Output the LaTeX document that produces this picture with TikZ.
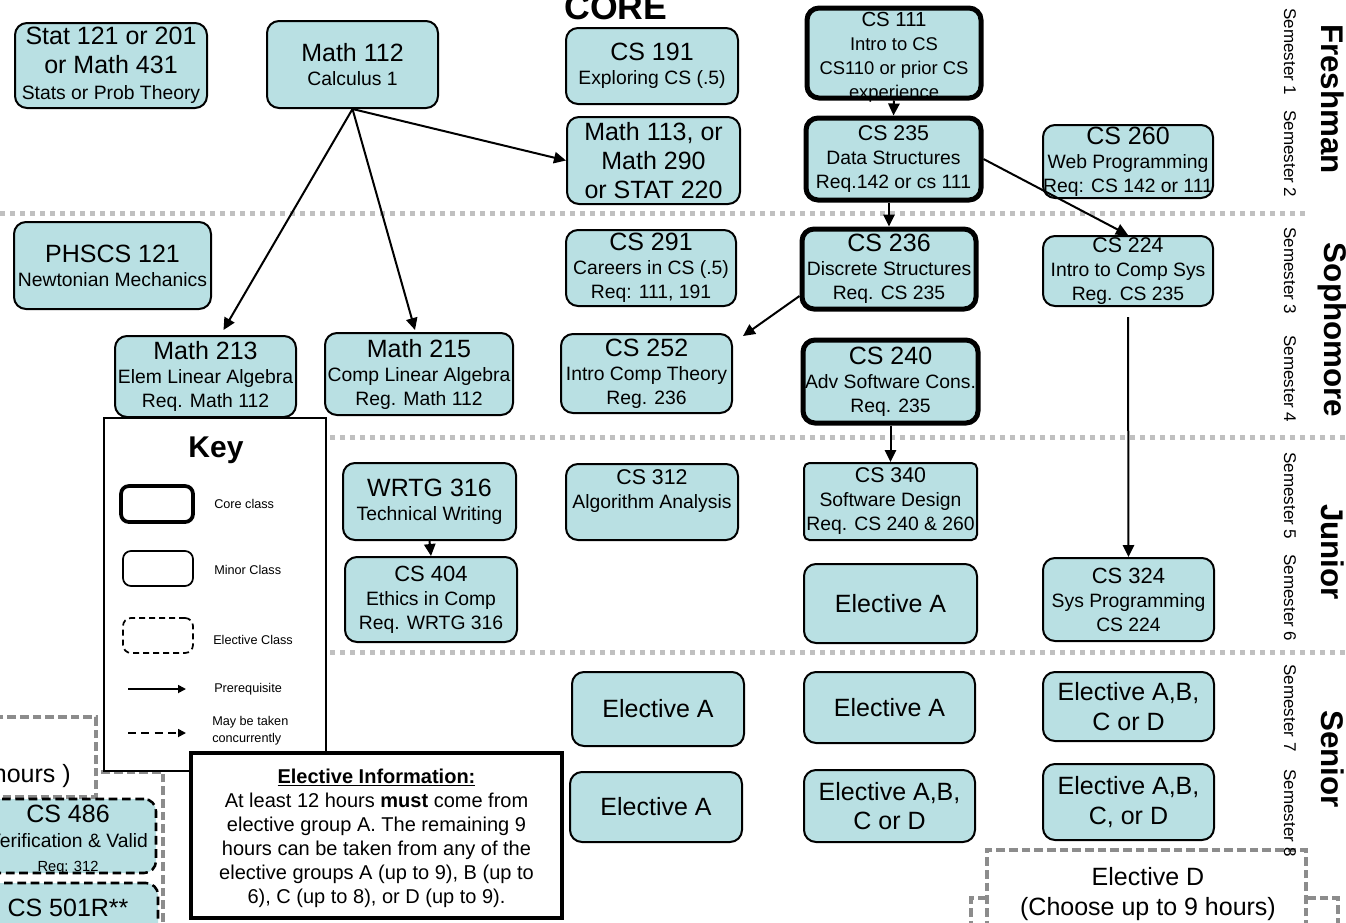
\documentclass[tikz,border=0pt]{standalone}
\usepackage{fontspec}
\setmainfont{Liberation Sans}
\usetikzlibrary{arrows.meta,calc}
\definecolor{cfill}{RGB}{185,224,227}
\definecolor{dotgray}{RGB}{192,192,192}
\definecolor{dashgray}{RGB}{140,140,140}
\newcommand{\Bf}{\fontsize{18.75}{22}\selectfont}
\newcommand{\Mf}{\fontsize{14.5}{18}\selectfont}
\newcommand{\Kf}{\fontsize{9.5}{12.5}\selectfont}
\newcommand{\bx}[6]{\node[#2, minimum width={(#5-(#3))*0.75pt}, minimum height={(#6-(#4))*0.75pt}] (#1) at ({(#3+#5)/2},{(#4+#6)/2}) {};}
\newcommand{\crs}[7]{\bx{#1}{#2}{#3}{#4}{#5}{#6}\node[txt] (#1-t) at (#1.center) {#7};}
\tikzset{
  box/.style={draw=black, fill=cfill, rounded corners=9pt, line width=1.5pt, inner sep=0pt},
  corebox/.style={box, line width=3.75pt},
  elbox/.style={box, dash pattern=on 6.5pt off 3.5pt, line width=1.9pt},
  gbox/.style={draw=dashgray, line width=3.2pt, dash pattern=on 6.5pt off 3pt, inner sep=0pt},
  keybox/.style={draw=black, fill=white, line width=1.9pt, inner sep=0pt},
  infobox/.style={draw=black, fill=white, line width=3pt, inner sep=0pt},
  keycore/.style={draw=black, rounded corners=6pt, line width=2.8pt, inner sep=0pt},
  keyminor/.style={draw=black, rounded corners=6pt, line width=1.3pt, inner sep=0pt},
  keyelec/.style={draw=black, rounded corners=6pt, line width=1.3pt, dash pattern=on 4.5pt off 3pt, inner sep=0pt},
  txt/.style={align=center, inner sep=0pt, font=\Mf},
  ktxt/.style={anchor=west, align=left, inner sep=0pt, font=\Kf},
  sem/.style={rotate=-90, inner sep=0pt, font=\fontsize{12.75}{14}\selectfont},
  yr/.style={rotate=-90, inner sep=0pt, font=\bfseries\fontsize{23.5}{26}\selectfont},
  arr/.style={line width=1.5pt, -{Triangle[length=9pt,width=8.5pt]}},
  karr/.style={line width=1.3pt, -{Triangle[length=6pt,width=6pt]}},
  sep/.style={draw=dotgray, line width=3.75pt, dash pattern=on 3.75pt off 3.75pt}
}
\begin{document}
\begin{tikzpicture}[x=0.75pt,y=-0.75pt]
\useasboundingbox (0,0) rectangle (1346,922);
\clip (0,0) rectangle (1346,922);
% semester separators
\draw[sep] (0,213) -- (1305,213);
\draw[sep] (330,437) -- (1346,437);
\draw[sep] (330,652) -- (1346,652);
% heading
\node[font=\bfseries\fontsize{26.7}{30}\selectfont, anchor=base, inner sep=0pt] (core) at (616,19) {CORE};
% freshman
\crs{stat}{box}{15}{23}{207}{108}{\Bf Stat 121 or 201\\[4pt]\Bf or Math 431\\[1.5pt]\Mf Stats or Prob Theory}
\crs{m112}{box}{267}{21}{438}{108}{\Bf Math 112\\\Mf Calculus 1}
\crs{cs191}{box}{566}{28}{738}{104}{\Bf CS 191\\\Mf Exploring CS (.5)}
\crs{m113}{box}{567}{117}{740}{204}{\Bf Math 113, or\\[4pt]\Bf Math 290\\[4pt]\Bf or STAT 220}
\bx{cs111}{corebox}{807}{8}{981}{98}
\node[txt] (cs111-t) at ($(cs111.center)+(0,4)$) {\fontsize{15.3}{17}\selectfont CS 111\\\fontsize{13.8}{17}\selectfont Intro to CS\\\fontsize{13.8}{17}\selectfont CS110 or prior CS\\\fontsize{13.8}{17}\selectfont experience};
\crs{cs235}{corebox}{806}{118}{981}{200}{\fontsize{16}{18}\selectfont CS 235\\\Mf Data Structures\\Req.142 or cs 111}
\crs{cs260}{box}{1043}{125}{1213}{198}{\Bf CS 260\\\Mf Web Programming\\Req: CS 142 or 111}
% sophomore
\crs{phscs}{box}{14}{222}{211}{309}{\Bf PHSCS 121\\\Mf Newtonian Mechanics}
\crs{cs291}{box}{566}{230}{736}{306}{\Bf CS 291\\\Mf Careers in CS (.5)\\Req: 111, 191}
\crs{cs236}{corebox}{802}{229}{976}{309}{\Bf CS 236\\\Mf Discrete Structures\\Req. CS 235}
\crs{cs224}{box}{1043}{236}{1213}{306}{\fontsize{16}{18}\selectfont CS 224\\\Mf Intro to Comp Sys\\Reg. CS 235}
\crs{m213}{box}{115}{336}{296}{417}{\Bf Math 213\\\Mf Elem Linear Algebra\\Req. Math 112}
\crs{m215}{box}{325}{333}{513}{415}{\Bf Math 215\\\Mf Comp Linear Algebra\\Reg. Math 112}
\crs{cs252}{box}{561}{334}{732}{413}{\Bf CS 252\\\Mf Intro Comp Theory\\Reg. 236}
\crs{cs240}{corebox}{803}{340}{978}{423}{\Bf CS 240\\\Mf Adv Software Cons.\\Req. 235}
% junior
\crs{wrtg}{box}{343}{463}{516}{540}{\Bf WRTG 316\\\Mf Technical Writing}
\crs{cs404}{box}{345}{557}{517}{642}{\fontsize{16.5}{18}\selectfont CS 404\\\Mf Ethics in Comp\\Req. WRTG 316}
\bx{cs312}{box}{566}{464}{738}{540}
\node[txt] (cs312-t) at ($(cs312.center)+(0,-11)$) {\fontsize{16}{18}\selectfont CS 312\\\Mf Algorithm Analysis};
\crs{cs340}{box, rounded corners=4pt}{804}{463}{977}{540}{\fontsize{16}{18}\selectfont CS 340\\\Mf Software Design\\Req. CS 240 \& 260}
\crs{elA1}{box}{804}{564}{977}{643}{\Bf Elective A}
\crs{cs324}{box}{1043}{558}{1214}{641}{\fontsize{16.5}{18}\selectfont CS 324\\\Mf Sys Programming\\CS 224}
% senior
\crs{elA2}{box}{572}{672}{744}{746}{\Bf Elective A}
\crs{elA3}{box}{804}{672}{975}{743}{\Bf Elective A}
\crs{elX1}{box}{1043}{672}{1214}{741}{\Bf Elective A,B,\\[4pt]\Bf C or D}
\crs{elA4}{box}{570}{772}{742}{842}{\Bf Elective A}
\crs{elX2}{box}{804}{770}{975}{842}{\Bf Elective A,B,\\[4pt]\Bf C or D}
\crs{elX3}{box}{1043}{764}{1214}{840}{\Bf Elective A,B,\\[4pt]\Bf C, or D}
% bottom-left elective groups
\bx{grpL}{gbox}{-60}{772}{163}{990}
\bx{hoursbox}{gbox, fill=white}{-200}{717}{96}{797}
\node[anchor=east, inner sep=0pt, font=\Bf] (hours-t) at (71,776) {hours )};
\bx{cs486}{elbox}{-20}{799}{156}{873}
\node[txt] (cs486-t) at (68,840) {\Bf CS 486\\[1pt]\Mf Verification \& Valid\\\fontsize{11}{17}\selectfont Req: 312};
\bx{cs501}{elbox}{-20}{883}{158}{970}
\node[txt, font=\Bf] (cs501-t) at (68,908) {CS 501R**};
% bottom-right elective group
\bx{grpR}{gbox}{971}{898}{1338}{990}
\bx{elD}{gbox, fill=white}{987}{850}{1306}{990}
\node[txt, font=\Bf] (elD-t) at (1148,894) {Elective D\\(Choose up to 9 hours)};
% key
\bx{key}{keybox}{104}{418}{326}{771}
\node[inner sep=0pt, font=\bfseries\fontsize{22.5}{26}\selectfont] (key-t) at (216,450) {Key};
\bx{kcore}{keycore}{121}{486}{193}{522}
\node[ktxt] (kcore-t) at (214,504) {Core class};
\bx{kminor}{keyminor}{123}{551}{193}{586}
\node[ktxt] (kminor-t) at (214,570) {Minor Class};
\bx{kelec}{keyelec}{123}{618}{193}{653}
\node[ktxt] (kelec-t) at (213,640) {Elective Class};
\coordinate (kpa) at (128,689);
\coordinate (kpb) at (186,689);
\draw[karr] (kpa) -- (kpb);
\node[ktxt] (kpre-t) at (214,689) {Prerequisite};
\coordinate (kca) at (128,733);
\coordinate (kcb) at (186,733);
\draw[karr, dash pattern=on 6pt off 4pt] (kca) -- (kcb);
\node[ktxt] (kcon-t) at (212,731) {May be taken\\concurrently};
% elective information
\bx{info}{infobox}{191}{753}{562}{918}
\node[txt, font=\fontsize{15}{18}\selectfont] (info-t) at (376.5,838) {\underline{\textbf{Elective Information:}}\\At least 12 hours \textbf{must} come from\\elective group A. The remaining 9\\hours can be taken from any of the\\elective groups A (up to 9), B (up to\\6), C (up to 8), or D (up to 9).};
% semester and year labels
\node[sem] (s1) at (1290,52) {Semester 1};
\node[sem] (s2) at (1290,154) {Semester 2};
\node[sem] (s3) at (1290,271) {Semester 3};
\node[sem] (s4) at (1290,379) {Semester 4};
\node[sem] (s5) at (1290,496) {Semester 5};
\node[sem] (s6) at (1290,598) {Semester 6};
\node[sem] (s7) at (1290,708) {Semester 7};
\node[sem] (s8) at (1290,813) {Semester 8};
\node[yr] (y1) at (1333,99) {Freshman};
\node[yr] (y2) at (1333,330) {Sophomore};
\node[yr] (y3) at (1333,552) {Junior};
\node[yr] (y4) at (1333,759) {Senior};
% prerequisites
\draw[arr] (m112.south) -- ($(m213.north)+(18,-5)$);
\draw[arr] (m112.south) -- ($(m215.north)+(-4,-2)$);
\draw[arr] (m112.south) -- (m113.west);
\draw[arr] (cs111.south) -- (cs235.north);
\draw[arr] (cs235.south -| cs236.north) -- (cs236.north);
\draw[arr] (cs235.east) -- (cs224.north);
\draw[arr] ($(cs236.west)+(0,27)$) -- ($(cs252.north east)+(10,3)$);
\draw[arr] (cs240.south) -- (cs340.north);
\draw[arr] ($(cs224.south)+(0,10)$) -- (cs324.north);
\draw[arr] (wrtg.south) -- (cs404.north);
\end{tikzpicture}
\end{document}
